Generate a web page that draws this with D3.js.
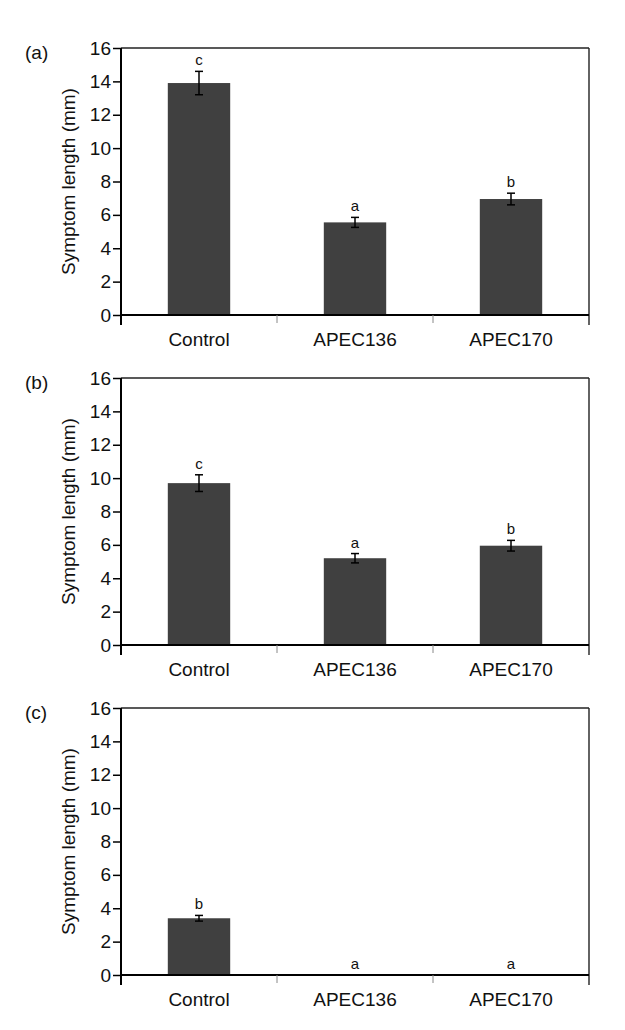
<!DOCTYPE html>
<html><head><meta charset="utf-8">
<script src="https://cdn.jsdelivr.net/npm/d3@7"></script>
<style>body{margin:0;background:#fff}svg{display:block}text{font-family:"Liberation Sans",Arial,sans-serif;fill:#111}</style>
</head><body>
<script>
const categories = ["Control", "APEC136", "APEC170"];
const panelLabels = ["(a)", "(b)", "(c)"];
const meansA = [13.9, 5.55, 6.95];
const errA = [0.7, 0.3, 0.35];
const lettersA = ["c", "a", "b"];
const meansB = [9.7, 5.2, 5.95];
const errB = [0.5, 0.28, 0.32];
const lettersB = ["c", "a", "b"];
const meansC = [3.4, 0, 0];
const errC = [0.17, 0, 0];
const lettersC = ["b", "a", "a"];
const yTicks = [0, 2, 4, 6, 8, 10, 12, 14, 16];
const yTitle = "Symptom length (mm)";

const panels = [
  {label: panelLabels[0], means: meansA, errs: errA, letters: lettersA},
  {label: panelLabels[1], means: meansB, errs: errB, letters: lettersB},
  {label: panelLabels[2], means: meansC, errs: errC, letters: lettersC}
];

const W = 625, H = 1030;
const svg = d3.select("body").append("svg").attr("width", W).attr("height", H);
const left = 121, right = 589, plotH = 267, firstTop = 48, step = 330;

const x = d3.scaleBand().domain(categories).range([left, right]).paddingInner(0).paddingOuter(0);
const barW = x.bandwidth() * 0.4;

panels.forEach((p, i) => {
  const top = firstTop + i * step, bottom = top + plotH;
  const y = d3.scaleLinear().domain([0, 16]).range([bottom, top]);
  const g = svg.append("g");

  // frame top and right
  g.append("line").attr("x1", left).attr("x2", right).attr("y1", top).attr("y2", top)
    .attr("stroke", "#222").attr("stroke-width", 1.4);
  g.append("line").attr("x1", right).attr("x2", right).attr("y1", top).attr("y2", bottom + 10)
    .attr("stroke", "#222").attr("stroke-width", 1.4);

  // bars
  g.selectAll("rect.bar").data(categories).enter().append("rect")
    .attr("x", d => x(d) + (x.bandwidth() - barW) / 2)
    .attr("width", barW)
    .attr("y", (d, k) => y(p.means[k]))
    .attr("height", (d, k) => y(0) - y(p.means[k]))
    .attr("fill", "#404040");

  // error bars
  categories.forEach((c, k) => {
    if (p.errs[k] <= 0) return;
    const cx = x(c) + x.bandwidth() / 2;
    const y1 = y(p.means[k] + p.errs[k]), y2 = y(p.means[k] - p.errs[k]);
    g.append("line").attr("x1", cx).attr("x2", cx).attr("y1", y1).attr("y2", y2).attr("stroke", "#000").attr("stroke-width", 1.5);
    [y1, y2].forEach(yy => g.append("line").attr("x1", cx - 4).attr("x2", cx + 4).attr("y1", yy).attr("y2", yy).attr("stroke", "#000").attr("stroke-width", 1.5));
  });

  // letters
  g.selectAll("text.let").data(categories).enter().append("text")
    .attr("x", d => x(d) + x.bandwidth() / 2)
    .attr("y", (d, k) => y(p.means[k] + p.errs[k]) - 6)
    .attr("text-anchor", "middle").attr("font-size", 15)
    .text((d, k) => p.letters[k]);

  // y axis
  const ya = g.append("g").attr("transform", `translate(${left},0)`)
    .call(d3.axisLeft(y).tickValues(yTicks).tickSize(8).tickPadding(2));
  ya.select(".domain").remove();
  ya.selectAll(".tick line").attr("stroke", "#000").attr("stroke-width", 1.5);
  ya.selectAll(".tick text").attr("font-size", 19).attr("fill", "#111")
    .attr("font-family", "Liberation Sans, Arial, sans-serif");
  g.append("line").attr("x1", left).attr("x2", left).attr("y1", top).attr("y2", bottom + 10)
    .attr("stroke", "#000").attr("stroke-width", 2);

  // x axis
  g.append("line").attr("x1", left).attr("x2", right).attr("y1", bottom).attr("y2", bottom)
    .attr("stroke", "#000").attr("stroke-width", 1.8);
  categories.slice(1).forEach(c => {
    g.append("line").attr("x1", x(c)).attr("x2", x(c)).attr("y1", bottom).attr("y2", bottom + 8)
      .attr("stroke", "#888").attr("stroke-width", 1);
  });
  g.selectAll("text.cat").data(categories).enter().append("text")
    .attr("x", d => x(d) + x.bandwidth() / 2)
    .attr("y", bottom + 31)
    .attr("text-anchor", "middle").attr("font-size", 19)
    .text(d => d);

  // y title
  g.append("text")
    .attr("transform", `translate(75,${(top + bottom) / 2}) rotate(-90)`)
    .attr("text-anchor", "middle").attr("font-size", 19)
    .text(yTitle);

  // panel label
  g.append("text").attr("x", 25).attr("y", top + 11).attr("font-size", 19).text(p.label);
});
</script>
</body></html>
